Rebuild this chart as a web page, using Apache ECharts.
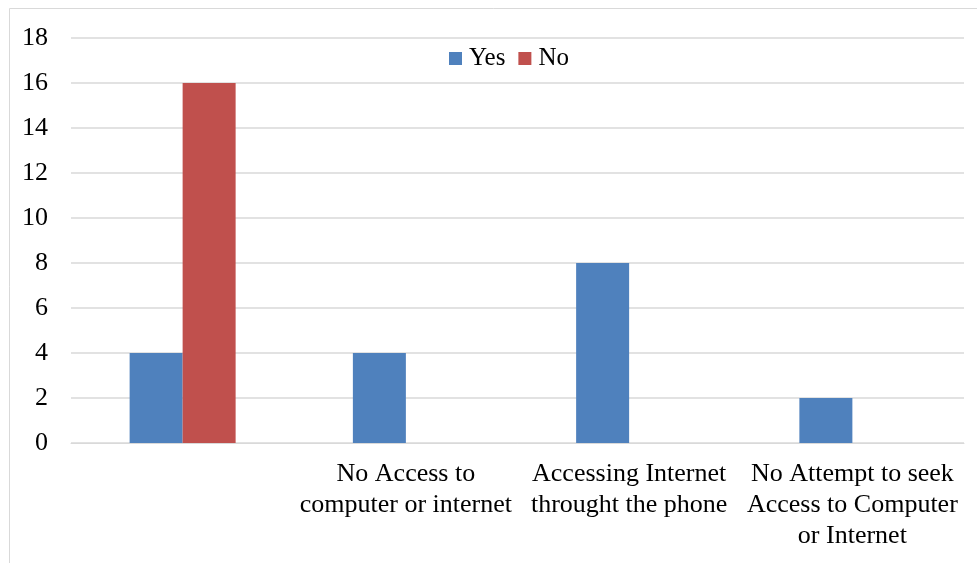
<!DOCTYPE html>
<html>
<head>
<meta charset="utf-8">
<script src="https://cdn.jsdelivr.net/npm/echarts@6/dist/echarts.min.js"></script>
<style>html,body{margin:0;padding:0;background:#fff;}#c{width:977px;height:563px;}</style>
</head>
<body>
<div id="c"></div>
<script>
var categories = ['', 'No Access to\ncomputer or internet', 'Accessing Internet\nthrought the phone', 'No Attempt to seek\nAccess to Computer\nor Internet'];
var yesValues = [4, 4, 8, 2];
var noValues = [16, null, null, null];
var yTicks = {min: 0, max: 18, interval: 2};

var font = '"Liberation Serif", "Times New Roman", serif';
var chart = echarts.init(document.getElementById('c'), null, {renderer: 'canvas'});
chart.setOption({
  animation: false,
  backgroundColor: '#fff',
  graphic: [{
    type: 'rect', silent: true,
    shape: {x: 9.5, y: 8.5, width: 1000, height: 600},
    style: {fill: 'none', stroke: '#D9D9D9', lineWidth: 1}
  }],
  grid: {left: 71, right: 13, top: 38, bottom: 120, containLabel: false},
  legend: {
    left: 444, top: 41,
    itemWidth: 13, itemHeight: 13, itemGap: 13,
    icon: 'rect',
    textStyle: {fontFamily: font, fontSize: 25, color: '#000', padding: [0, 0, 0, 2]},
    data: ['Yes', 'No']
  },
  xAxis: {
    type: 'category',
    data: categories,
    axisLine: {show: true, lineStyle: {color: '#D9D9D9', width: 1}},
    axisTick: {show: false},
    axisLabel: {interval: 0, margin: 16, fontFamily: font, fontSize: 26, lineHeight: 31, color: '#000', align: 'center'}
  },
  yAxis: {
    type: 'value',
    min: yTicks.min, max: yTicks.max, interval: yTicks.interval,
    axisLine: {show: false},
    axisTick: {show: false},
    splitLine: {lineStyle: {color: '#D9D9D9', width: 1.5}},
    axisLabel: {margin: 23, fontFamily: font, fontSize: 26, color: '#000'}
  },
  series: [
    {name: 'Yes', type: 'bar', data: yesValues, barWidth: 53, barGap: '0%', itemStyle: {color: '#4F81BD'}},
    {name: 'No', type: 'bar', data: noValues, barWidth: 53, barGap: '0%', itemStyle: {color: '#C0504D'}}
  ]
});
</script>
</body>
</html>
